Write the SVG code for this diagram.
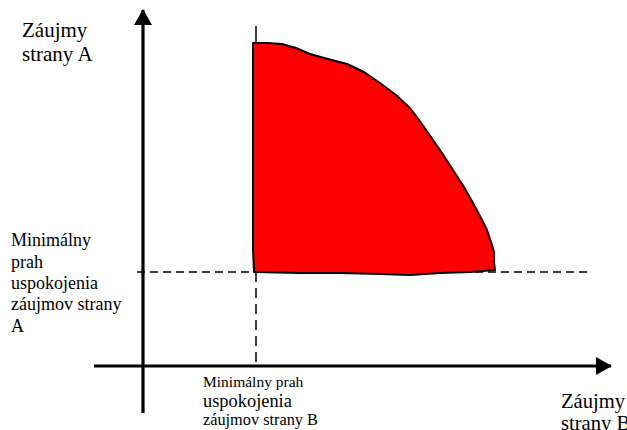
<svg xmlns="http://www.w3.org/2000/svg" width="627" height="430" viewBox="0 0 627 430">
<style>
.axis{stroke:#000;stroke-width:3.2;fill:none}
.dash{stroke:#000;stroke-width:1.5;fill:none}
</style>
<defs>
<marker id="ah" markerUnits="userSpaceOnUse" markerWidth="16" markerHeight="18" refX="15" refY="9" orient="auto">
<path d="M0,0 L16,9 L0,18 Z" fill="#000"/>
</marker>
</defs>
<rect width="627" height="430" fill="#fff"/>
<g id="connectors">
<line class="dash" x1="256" y1="26" x2="256" y2="44"/>
<line class="dash" x1="256" y1="272" x2="256" y2="366" stroke-dasharray="10,6"/>
<line class="dash" x1="137" y1="272" x2="590" y2="272" stroke-dasharray="8,5"/>
<line class="axis" x1="143" y1="413" x2="143" y2="10" marker-end="url(#ah)"/>
<line class="axis" x1="94" y1="366" x2="611" y2="366" marker-end="url(#ah)"/>
</g>
<g id="region">
<path d="M253,43 L268,43 L282,44 L296,48 L310,54 L328,59 L347,64 L364,72 L380,83 L396,95 L410,108 L422,124 L433,140 L444,156 L453,170 L464,187 L473,203 L481,218 L487,230 L492,245 L494,252 L494,262 L495,270 L470,272 L440,273 L410,275 L380,274 L340,273 L300,273 L254,272 L253,250 Z" fill="#ff0000" stroke="#000" stroke-width="2" stroke-linejoin="round"/>
</g>
<g font-family="'Liberation Serif', 'Times New Roman', 'DejaVu Serif', serif" fill="#000">
<g id="label-a">
<text x="22" y="37" font-size="21">Záujmy</text>
<text x="22" y="61" font-size="21">strany A</text>
</g>
<g id="label-min-a">
<text x="11" y="246" font-size="18">Minimálny</text>
<text x="11" y="268" font-size="18">prah</text>
<text x="11" y="289" font-size="18">uspokojenia</text>
<text x="11" y="310" font-size="18">záujmov strany</text>
<text x="11" y="332" font-size="18">A</text>
</g>
<g id="label-min-b">
<text x="203" y="387" font-size="15.5">Minimálny prah</text>
<text x="203" y="407" font-size="18.4">uspokojenia</text>
<text x="203" y="425" font-size="16.3">záujmov strany B</text>
</g>
<g id="label-b">
<text x="561" y="408" font-size="20.6">Záujmy</text>
<text x="561" y="430" font-size="20.6">strany B</text>
</g>
</g>
</svg>
